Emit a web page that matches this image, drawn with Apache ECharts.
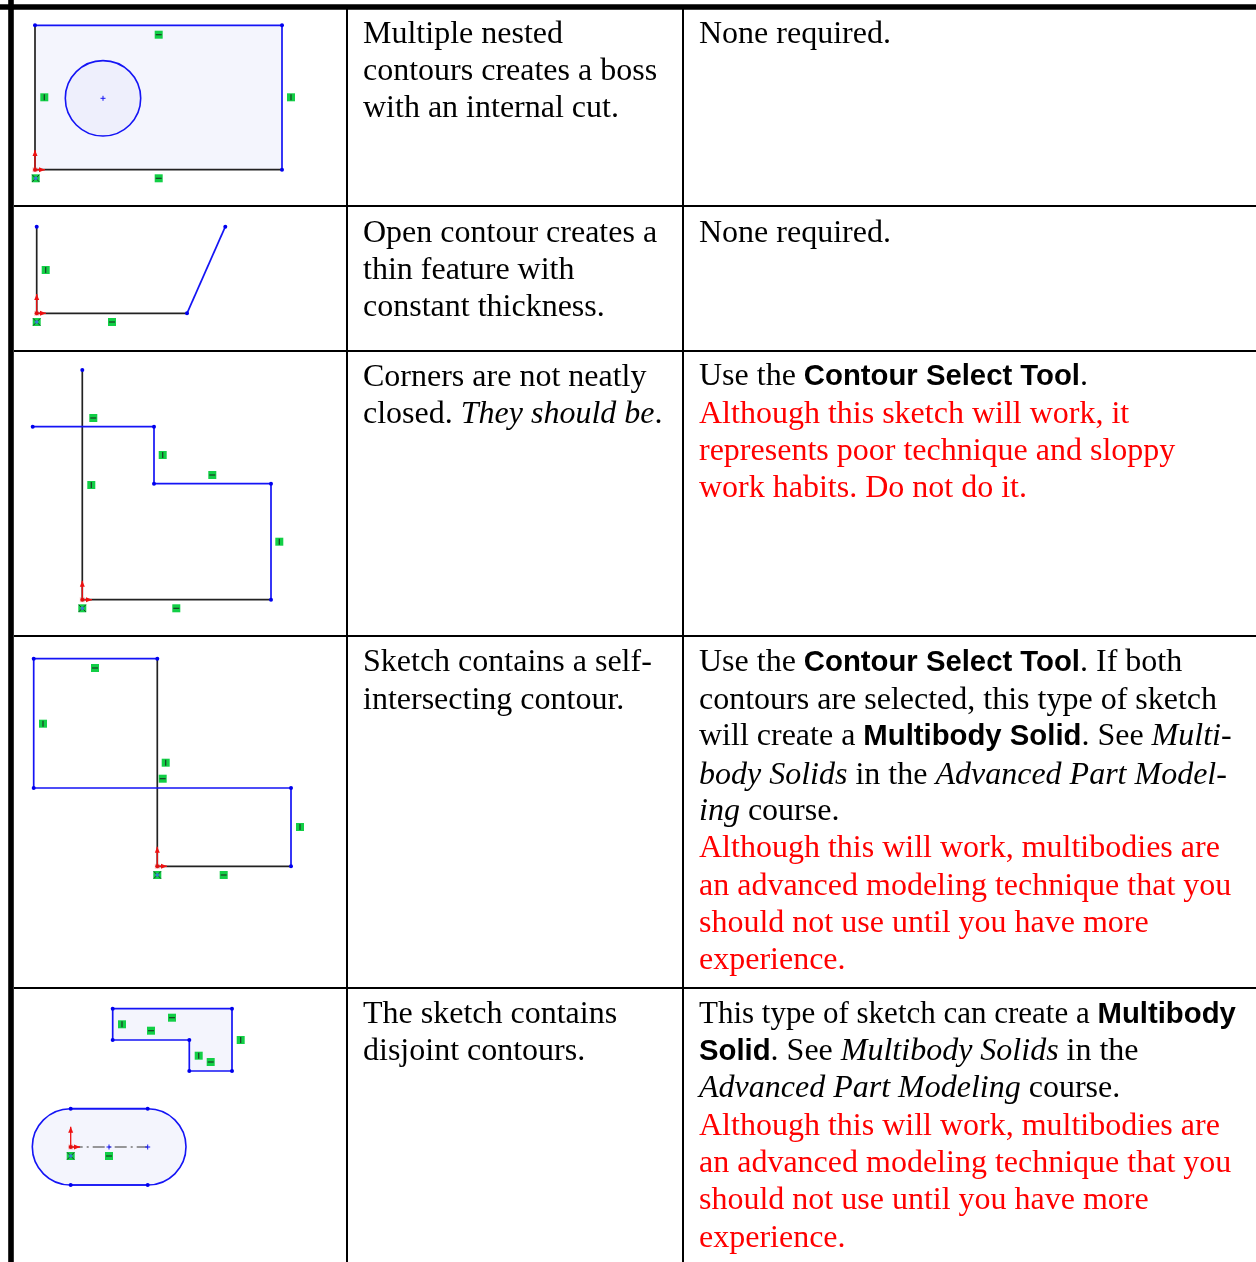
<!DOCTYPE html>
<html><head><meta charset="utf-8">
<style>html,body{margin:0;padding:0;background:#fff}#c{width:1256px;height:1262px}</style>
<script src="https://cdn.jsdelivr.net/npm/echarts@6/dist/echarts.min.js"></script>
</head><body><div id="c"></div>
<script>
// table rules
const thickRules = [[[11,0],[11,1262]],[[0,7],[1256,7]]];
const thinRules = [
 [[14,206],[1256,206]],[[14,351],[1256,351]],[[14,636],[1256,636]],[[14,988],[1256,988]],
 [[347,9],[347,1262]],[[683,9],[683,1262]]
];
// sketch geometry
const fillRects = [[35,25.3,282,169.7]];
const fillCircle = [[103,98.3,37.7]];
const fillSlot = [[32.3,1108.7,186,1185]];
const fillPolys = [[[112.7,1008.7],[232,1008.7],[232,1071],[189.3,1071],[189.3,1040],[112.7,1040]]];
const blueLines = [
 [[35,25.3],[282,25.3],[282,169.7]],
 [[187,313.3],[225.3,226.7]],
 [[32.7,426.7],[154,426.7],[154,483.7],[271,483.7],[271,599.7]],
 [[33.7,788],[33.7,658.7],[157.3,658.7]],
 [[33.7,788],[291,788],[291,866.3]],
 [[112.7,1008.7],[232,1008.7],[232,1071],[189.3,1071],[189.3,1040],[112.7,1040],[112.7,1008.7]],
 [[70.7,1108.7],[147.7,1108.7]],[[70.7,1185],[147.7,1185]]
];
const blackLines = [
 [[35,25.3],[35,169.7],[282,169.7]],
 [[36.7,226.7],[36.7,313.3],[187,313.3]],
 [[82.3,370],[82.3,599.7],[271,599.7]],
 [[157.3,658.7],[157.3,866.3],[291,866.3]]
];
const centerLine = [[70.7,1147],[147.7,1147]];
const endpoints = [
 [35,25.3],[282,25.3],[282,169.7],
 [36.7,226.7],[187,313.3],[225.3,226.7],
 [82.3,370],[32.7,426.7],[154,426.7],[154,483.7],[271,483.7],[271,599.7],
 [33.7,658.7],[157.3,658.7],[33.7,788],[291,788],[291,866.3],
 [112.7,1008.7],[232,1008.7],[232,1071],[189.3,1071],[189.3,1040],[112.7,1040],
 [70.7,1108.7],[147.7,1108.7],[70.7,1185],[147.7,1185]
];
const plusMarks = [[103,98.3],[147.7,1147],[109,1147]];
const horizIcons = [[158.7,34.7],[158.7,178.3],[112,322],[93.3,418],[212.3,475],[176.3,608.3],[95,668],[162.7,778.7],[223.7,875],[172,1017.7],[151,1030.7],[210.7,1062],[109,1156]];
const vertIcons = [[44.3,97.3],[291,97.3],[45.7,270],[162.7,455],[91.3,485],[279.3,541.7],[43,723.7],[165.7,762.7],[300,827],[122,1024.3],[240.7,1040],[198.7,1055.7]];
const fixIcons = [[35.7,178.3],[36.7,322],[82.3,608.3],[157.3,875],[70.7,1156]];
// origin x, origin y, arrow top y, arrow right x
const origins = [[35,169.7,150,45],[36.7,313.3,294,46],[82.3,599.7,580.7,92],[157.3,866.3,846.7,167],[70.7,1147,1126.7,80]];
// text
const col2X = 363, col3X = 699;
const blackText = [
 [col2X,35,'Multiple nested'],[col2X,72,'contours creates a boss'],[col2X,109,'with an internal cut.'],
 [col3X,35,'None required.'],
 [col2X,234,'Open contour creates a'],[col2X,271,'thin feature with'],[col2X,308,'constant thickness.'],
 [col3X,234,'None required.'],
 [col2X,378,'Corners are not neatly'],[col2X,415,'closed. {i|They should be}.'],
 [col3X,377,'Use the {b|Contour Select Tool}.'],
 [col2X,663,'Sketch contains a self-'],[col2X,701,'intersecting contour.'],
 [col3X,663,'Use the {b|Contour Select Tool}. If both'],
 [col3X,701,'contours are selected, this type of sketch'],
 [col3X,737,'will create a {b|Multibody Solid}. See {i|Multi-}'],
 [col3X,776,'{i|body Solids} in the {i|Advanced Part Model-}'],
 [col3X,812,'{i|ing} course.'],
 [col2X,1015,'The sketch contains'],[col2X,1052,'disjoint contours.'],
 [col3X,1015,'{n|This type of sketch can create a }{b|Multibody}'],
 [col3X,1052,'{b|Solid}. See {i|Multibody Solids} in the'],
 [col3X,1089,'{i|Advanced Part Modeling} course.']
];
const redText = [
 [col3X,415,'Although this sketch will work, it'],[col3X,452,'represents poor technique and sloppy'],[col3X,489,'work habits. Do not do it.'],
 [col3X,849,'Although this will work, multibodies are'],[col3X,887,'an advanced modeling technique that you'],[col3X,924,'should not use until you have more'],[col3X,961,'experience.'],
 [col3X,1127,'Although this will work, multibodies are'],[col3X,1164,'an advanced modeling technique that you'],[col3X,1201,'should not use until you have more'],[col3X,1239,'experience.']
];

const BLUE='#1414f5', BLACK='#222222', GREEN='#12cf46', GLYPH='#1c3a24', RED='#f01010';
const chart = echarts.init(document.getElementById('c'),null,{renderer:'canvas'});
const lineS=(pts,color,w,extra)=>Object.assign({type:'line',data:pts,showSymbol:false,symbol:'none',silent:true,animation:false,clip:false,lineStyle:{color,width:w},z:5},extra||{});
const rich=c=>({
  n:{fontFamily:'Liberation Serif',fontSize:31,color:c,lineHeight:37},
  i:{fontFamily:'Liberation Serif',fontSize:32,fontStyle:'italic',color:c,lineHeight:37},
  b:{fontFamily:'Liberation Sans',fontSize:29.3,fontWeight:'bold',color:c,lineHeight:37}
});
const textS=(rows,c)=>({
  type:'scatter',data:rows.map(r=>({value:[r[0],r[1]],label:{formatter:r[2]}})),symbolSize:0,silent:true,animation:false,z:10,
  itemStyle:{opacity:1},
  label:{show:true,position:'right',distance:0,fontFamily:'Liberation Serif',fontSize:32,color:c,lineHeight:37,rich:rich(c)},
  labelLayout:{hideOverlap:false}
});
const customS=(data,renderItem,z)=>({type:'custom',data,renderItem,silent:true,animation:false,clip:false,z:z||6,encode:{x:0,y:1}});
const series=[];
// fills
series.push(customS(fillRects,(p,a)=>{const s=a.coord([a.value(0),a.value(1)]),e=a.coord([a.value(2),a.value(3)]);
  return{type:'rect',shape:{x:s[0],y:s[1],width:e[0]-s[0],height:e[1]-s[1]},style:{fill:'#f4f5fd'}}},1));
series.push(customS(fillSlot,(p,a)=>{const s=a.coord([a.value(0),a.value(1)]),e=a.coord([a.value(2),a.value(3)]);
  return{type:'rect',shape:{x:s[0],y:s[1],width:e[0]-s[0],height:e[1]-s[1],r:(e[1]-s[1])/2},style:{fill:'#f4f5fd',stroke:BLUE,lineWidth:1.6}}},4));
series.push(customS(fillCircle,(p,a)=>{const c=a.coord([a.value(0),a.value(1)]);
  return{type:'circle',shape:{cx:c[0],cy:c[1],r:a.value(2)},style:{fill:'#eeeffc',stroke:BLUE,lineWidth:1.6}}},4));
fillPolys.forEach(poly=>series.push(customS([poly.flat()],(p,a)=>{
  const pts=[];for(let i=0;i<poly.length;i++)pts.push(a.coord([a.value(i*2),a.value(i*2+1)]));
  return{type:'polygon',shape:{points:pts},style:{fill:'#f4f5fd'}}},1)));
// table
thickRules.forEach(r=>series.push(lineS(r,'#000',5.6,{z:8})));
thinRules.forEach(r=>series.push(lineS(r,'#000',2,{z:8})));
blackLines.forEach(l=>series.push(lineS(l,BLACK,1.7)));
blueLines.forEach(l=>series.push(lineS(l,BLUE,1.7)));
series.push(lineS(centerLine,'#777',1.3,{lineStyle:{color:'#777',width:1.3,type:[12,4,2,4]}}));
series.push({type:'scatter',data:endpoints,symbol:'circle',symbolSize:4,itemStyle:{color:'#0000ee',opacity:1},silent:true,animation:false,z:7});
series.push(customS(plusMarks,(p,a)=>{const c=a.coord([a.value(0),a.value(1)]);
  return{type:'group',children:[
   {type:'line',shape:{x1:c[0]-2.5,y1:c[1],x2:c[0]+2.5,y2:c[1]},style:{stroke:BLUE,lineWidth:1}},
   {type:'line',shape:{x1:c[0],y1:c[1]-2.5,x2:c[0],y2:c[1]+2.5},style:{stroke:BLUE,lineWidth:1}}]}},7));
// origins
series.push(customS(origins,(p,a)=>{const c=a.coord([a.value(0),a.value(1)]),t=a.coord([a.value(0),a.value(2)]),r=a.coord([a.value(3),a.value(1)]);
  return{type:'group',children:[
   {type:'line',shape:{x1:c[0],y1:c[1],x2:t[0],y2:t[1]},style:{stroke:RED,lineWidth:1.3}},
   {type:'line',shape:{x1:c[0],y1:c[1],x2:r[0],y2:r[1]},style:{stroke:RED,lineWidth:1.3}},
   {type:'polygon',shape:{points:[[t[0],t[1]],[t[0]-2.5,t[1]+6],[t[0]+2.5,t[1]+6]]},style:{fill:RED}},
   {type:'polygon',shape:{points:[[r[0],r[1]],[r[0]-6,r[1]-2.5],[r[0]-6,r[1]+2.5]]},style:{fill:RED}},
   {type:'rect',shape:{x:c[0]-2.5,y:c[1]-2.5,width:5,height:5},style:{fill:'rgba(240,60,60,0.3)'}},
   {type:'circle',shape:{cx:c[0],cy:c[1],r:2},style:{fill:'#e01010'}}]}},7));
// relation icons
const icon=(fn)=>(p,a)=>{const c=a.coord([a.value(0),a.value(1)]);
  return{type:'group',children:[{type:'rect',shape:{x:c[0]-4,y:c[1]-4,width:8,height:8},style:{fill:GREEN}}].concat(fn(c))}};
series.push(customS(horizIcons,icon(c=>[{type:'line',shape:{x1:c[0]-3,y1:c[1],x2:c[0]+3,y2:c[1]},style:{stroke:GLYPH,lineWidth:1.2}}]),7));
series.push(customS(vertIcons,icon(c=>[{type:'line',shape:{x1:c[0],y1:c[1]-3,x2:c[0],y2:c[1]+3},style:{stroke:GLYPH,lineWidth:1.2}}]),7));
series.push(customS(fixIcons,icon(c=>[
  {type:'line',shape:{x1:c[0]-3.5,y1:c[1]+3.5,x2:c[0]+3.5,y2:c[1]-3.5},style:{stroke:GLYPH,lineWidth:1}},
  {type:'line',shape:{x1:c[0]-3.5,y1:c[1]-3.5,x2:c[0]+3.5,y2:c[1]+3.5},style:{stroke:GLYPH,lineWidth:1}},
  {type:'rect',shape:{x:c[0]-1.5,y:c[1]-1.5,width:3,height:3},style:{fill:'#3a7ad8'}}]),7));
series.push(textS(blackText,'#000'));
series.push(textS(redText,'#ff0000'));
chart.setOption({
  animation:false,backgroundColor:'#fff',tooltip:{show:false},legend:{show:false},
  grid:{left:0,right:0,top:0,bottom:0,containLabel:false},
  xAxis:{type:'value',min:0,max:1256,show:false},
  yAxis:{type:'value',min:0,max:1262,inverse:true,show:false},
  series
});
</script></body></html>
